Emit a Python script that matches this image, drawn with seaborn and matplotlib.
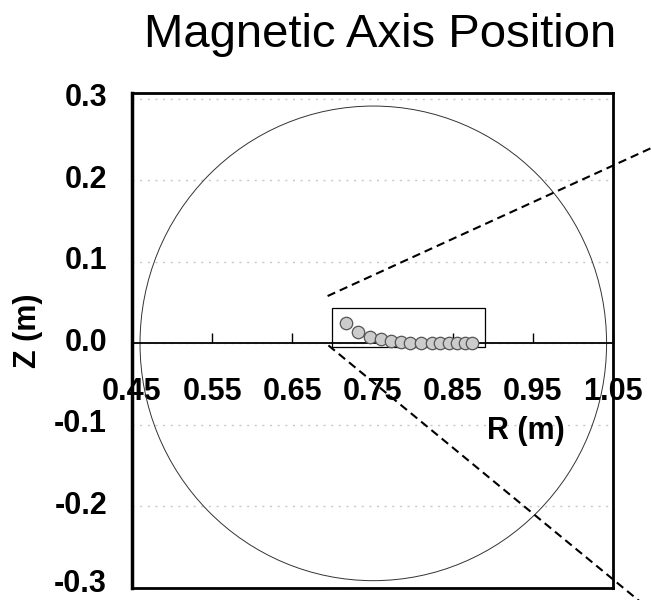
import numpy as np
import pandas as pd
import matplotlib
matplotlib.use('Agg')
import matplotlib.pyplot as plt
import matplotlib.transforms as mtransforms
from matplotlib.patches import Ellipse, Rectangle
import seaborn as sns

### Magnetic axis positions
R_axis = [0.717, 0.732, 0.747, 0.761, 0.773, 0.786, 0.797, 0.811, 0.824, 0.834, 0.845, 0.855, 0.865, 0.874]
Z_axis = [0.025, 0.014, 0.008, 0.005, 0.003, 0.0015, 0.001, 0.001, 0.001, 0.001, 0.001, 0.001, 0.001, 0.001]

### Vessel outline (centre and radius, m)
vessel_R0 = 0.751
vessel_a = 0.291

### Zoom box around the points and the two guide lines leaving it
box_R = [0.700, 0.890]
box_Z = [-0.004, 0.043]
upper_guide_R = [0.694, 1.15]
upper_guide_Z = [0.058, 0.263]
lower_guide_R = [0.695, 1.12]
lower_guide_Z = [-0.0025, -0.346]

x_ticks = [0.45, 0.55, 0.65, 0.75, 0.85, 0.95, 1.05]
y_ticks = [-0.3, -0.2, -0.1, 0.0, 0.1, 0.2, 0.3]

df = pd.DataFrame({'R': R_axis, 'Z': Z_axis})

sns.set_style('white')
plt.rcParams['font.family'] = ['Liberation Sans', 'DejaVu Sans']
plt.rcParams['text.color'] = 'black'
plt.rcParams['axes.labelcolor'] = 'black'
plt.rcParams['xtick.color'] = 'black'
plt.rcParams['ytick.color'] = 'black'

fig = plt.figure(figsize=(6.51, 6.0), dpi=100)
ax = fig.add_axes([132/651, 12/600, 481/651, 495/600])
ax.set_xlim(0.45, 1.05)
ax.set_ylim(-0.3, 0.307)

# horizontal dotted grid
for y in y_ticks:
    ax.axhline(y, color='#c8c8c8', lw=1.0, ls=(0, (1.5, 4)), zorder=0)

# vessel boundary
ax.add_patch(Ellipse((vessel_R0, 0), 2*vessel_a, 2*vessel_a, fill=False,
                     ec='#333333', lw=0.7, zorder=1))

# zero line
ax.axhline(0, color='black', lw=1.3, zorder=2)

# zoom box + guide lines
ax.add_patch(Rectangle((box_R[0], box_Z[0]), box_R[1]-box_R[0], box_Z[1]-box_Z[0],
                       fill=False, ec='black', lw=0.9, zorder=3))
ax.plot(upper_guide_R, upper_guide_Z, color='black', lw=1.5, ls=(0, (4, 2.4)),
        clip_on=False, zorder=4)
ax.plot(lower_guide_R, lower_guide_Z, color='black', lw=1.5, ls=(0, (4, 2.4)),
        clip_on=False, zorder=4)

sns.scatterplot(data=df, x='R', y='Z', ax=ax, s=80, color='#cccccc',
                edgecolor='#555555', linewidth=0.9, zorder=5, legend=False)

# frame
for sp in ax.spines.values():
    sp.set_visible(True)
    sp.set_color('black')
    sp.set_linewidth(2.0)
ax.spines['left'].set_linewidth(2.5)

# y axis
ax.set_yticks(y_ticks)
ax.set_yticklabels([f'{v:.1f}' for v in y_ticks], fontsize=22, fontweight='bold')
ax.tick_params(axis='y', direction='in', length=7, width=1, color='#808080', pad=18)
ylabels = ax.get_yticklabels()
for i, lab in enumerate(ylabels):
    up = 8 if i == 0 else 4
    lab.set_transform(lab.get_transform() +
                      mtransforms.ScaledTranslation(0, up/100, fig.dpi_scale_trans))
ax.set_ylabel('Z (m)', fontsize=22, fontweight='bold')
ax.yaxis.set_label_coords(-0.185, 0.52)

# x axis drawn along Z = 0
ax.tick_params(axis='x', bottom=False, labelbottom=False)
sec = ax.secondary_xaxis(0, transform=ax.transData)
sec.set_xticks(x_ticks)
sec.set_xticklabels([f'{v:.2f}' for v in x_ticks], fontsize=22, fontweight='bold')
sec.tick_params(axis='x', direction='in', length=7, width=1, color='black', pad=24)
sec.spines['bottom'].set_visible(False)
ax.set_xlabel('R (m)', fontsize=22, fontweight='bold')
ax.xaxis.set_label_coords(0.819, 0.347)

ax.set_title('Magnetic Axis Position', fontsize=34, pad=33, x=0.516)

plt.savefig('out.png', dpi=100)
plt.close()
